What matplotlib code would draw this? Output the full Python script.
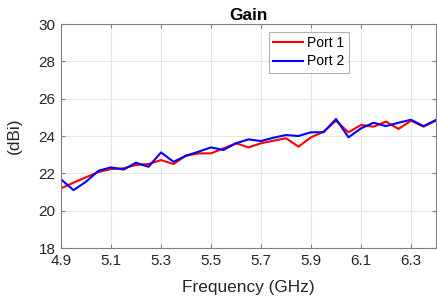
import numpy as np
import matplotlib
matplotlib.use("Agg")
import matplotlib.pyplot as plt

plt.rcParams["font.family"] = ["Liberation Sans", "DejaVu Sans"]

freq = np.round(np.arange(4.9, 6.4001, 0.05), 2)
port1 = [21.2, 21.5, 21.79, 22.07, 22.23, 22.27, 22.45, 22.5, 22.71, 22.5,
         22.95, 23.07, 23.07, 23.34, 23.61, 23.39, 23.61, 23.75, 23.88, 23.43,
         23.93, 24.23, 24.82, 24.2, 24.59, 24.5, 24.77, 24.38, 24.82, 24.5, 24.82]
port2 = [21.68, 21.1, 21.55, 22.14, 22.32, 22.2, 22.57, 22.35, 23.12, 22.62,
         22.94, 23.16, 23.39, 23.25, 23.61, 23.82, 23.73, 23.91, 24.05, 24.0,
         24.2, 24.2, 24.91, 23.93, 24.41, 24.71, 24.53, 24.71, 24.87, 24.53, 24.86]
xticks = [4.9, 5.1, 5.3, 5.5, 5.7, 5.9, 6.1, 6.3]
yticks = [18, 20, 22, 24, 26, 28, 30]

fig = plt.figure(figsize=(4.37, 3.02), dpi=100)
ax = fig.add_axes([0.1396, 0.1788, 0.8581, 0.7417])
ax.plot(freq, port1, color="#ff0000", lw=1.5, label="Port 1")
ax.plot(freq, port2, color="#0000ff", lw=1.5, label="Port 2")

ax.set_xlim(4.9, 6.4)
ax.set_ylim(18, 30)
ax.set_xticks(xticks)
ax.set_xticklabels([f"{t:.1f}" for t in xticks])
ax.set_yticks(yticks)
ax.grid(True, color="#e6e6e6", lw=0.8)
ax.set_axisbelow(True)
for s in ax.spines.values():
    s.set_color("#808080")
    s.set_linewidth(0.8)
ax.tick_params(direction="in", length=3, color="#808080", labelcolor="#262626",
               labelsize=11, top=True, right=True)
ax.tick_params(axis="x", pad=4)
ax.tick_params(axis="y", pad=4)
ax.set_xlabel("Frequency (GHz)", fontsize=12.4, color="#262626", labelpad=9)
ax.set_ylabel("(dBi)", fontsize=12.4, color="#262626", labelpad=12)
ax.set_title("Gain", fontsize=12.4, fontweight="bold", color="black", pad=3)

leg = ax.legend(loc="upper left", bbox_to_anchor=(0.555, 0.964), fontsize=10,
                frameon=True, fancybox=False, handlelength=2.16, borderpad=0.3,
                labelspacing=0.3, handletextpad=0.3, borderaxespad=0)
leg.get_frame().set_edgecolor("#a0a0a0")
leg.get_frame().set_linewidth(0.8)

fig.savefig("out.png", dpi=100)
